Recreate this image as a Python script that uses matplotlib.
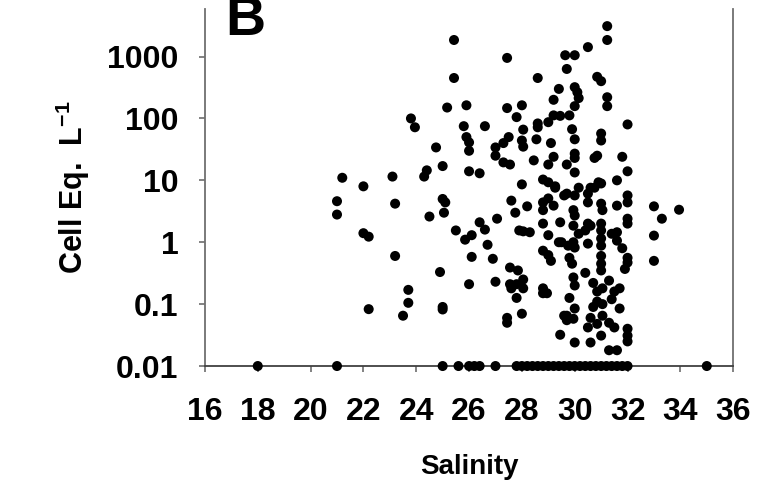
import matplotlib.pyplot as plt

plt.rcParams['font.family'] = 'Liberation Sans'
plt.rcParams['font.weight'] = 'bold'
plt.rcParams['mathtext.fontset'] = 'custom'
plt.rcParams['mathtext.rm'] = 'Liberation Sans:bold'
plt.rcParams['mathtext.bf'] = 'Liberation Sans:bold'

# samples: salinity and cell equivalents per litre
# low salinity side
sal_low = [18, 21, 21.2, 21.0, 21.0, 22.0, 22.0, 22.2, 22.2, 23.1, 23.2, 23.2,
           23.7, 23.7, 23.5, 23.8, 23.95]
cell_low = [0.01, 0.01, 11, 4.6, 2.8, 8, 1.4, 1.23, 0.083, 11.5, 4.2, 0.6,
            0.17, 0.105, 0.065, 100, 72]

# 24 - 27
sal_mid = [25.43, 25.43, 25.17, 25.9, 25.8, 26.6, 25.9, 26.0, 26.0, 24.75, 27.0,
           27.0, 25.0, 24.4, 24.3, 26.0, 26.4, 25.0, 25.1, 25.05, 24.5, 27.06,
           26.4, 26.6, 25.5, 25.85, 26.1, 26.7, 26.1, 26.9, 24.9, 26.0, 27.0,
           25.0, 25.0]
cell_mid = [1850, 450, 150, 163, 75, 75, 50, 41, 30, 34, 34,
            25, 17, 14.5, 11.5, 14, 13, 5, 4.4, 3, 2.6, 2.4,
            2.1, 1.6, 1.55, 1.1, 1.3, 0.91, 0.58, 0.54, 0.33, 0.21, 0.23,
            0.09, 0.082]

# 27 - 30
sal_hi = [27.44, 29.64, 29.7, 28.6, 29.4, 29.2, 27.44, 28.0, 27.8, 28.05, 28.6,
          28.6, 29.0, 29.2, 29.45, 29.8, 27.5, 27.3, 28.0, 28.05, 28.55, 29.1,
          29.2, 27.3, 27.55, 28.45, 29.0, 29.7, 28.0, 28.8, 29.0, 29.26,
          27.6, 27.75, 28.2, 28.8, 29.0, 29.2, 28.8, 29.26, 29.6, 27.9, 28.05,
          28.3, 28.8, 29.0, 29.45, 29.4, 28.8, 29.0, 29.1, 29.75, 27.55, 27.85,
          28.05, 27.55, 27.8, 27.6, 28.05, 27.8, 28.8, 28.95, 28.8, 28.0,
          27.44, 27.44, 29.45, 29.6, 29.7]
cell_hi = [950, 1050, 630, 450, 300, 200, 147, 163, 105, 66, 83,
           72, 87, 112, 110, 112, 50, 40, 44, 35, 46, 40,
           24, 19.5, 18, 21, 18, 18, 8.6, 10.3, 9.3, 8,
           4.7, 3, 3.8, 4.4, 5.1, 3.9, 3.3, 7.6, 5.7, 1.55, 1.5,
           1.45, 2.0, 1.3, 2.1, 1.0, 0.73, 0.62, 0.5, 0.88, 0.39, 0.35,
           0.25, 0.21, 0.21, 0.18, 0.18, 0.126, 0.18, 0.15, 0.15, 0.07,
           0.06, 0.05, 0.032, 0.065, 0.055]

# 30 - 32
sal_top = [31.23, 31.23, 30.5, 30.0, 30.85, 31.0, 30.0, 30.1, 30.15, 31.23,
           31.23, 30.0, 32.0, 29.9, 30.0, 31.0, 31.0, 30.0, 30.0, 30.85, 30.75,
           31.8, 30.0, 32.0, 31.6, 30.9, 30.15, 30.75]
cell_top = [3100, 1850, 1420, 1050, 470, 400, 320, 265, 213, 220,
            158, 158, 80, 67, 46, 57, 44, 27, 23, 25, 23,
            24, 13.4, 14, 10, 9.3, 7.6, 7.6]

sal_dense = [29.7, 30.0, 29.95, 30.0, 30.5, 30.5, 30.6, 31.0, 31.0, 31.05, 31.6,
             32.0, 32.0, 32.0, 32.0, 29.95, 30.15, 29.95, 30.0, 29.8, 29.5,
             30.5, 30.4, 30.5, 30.6, 31.0, 31.0, 31.0, 31.0, 31.0, 31.0, 31.0,
             31.4, 31.6, 31.6, 31.8, 32.0, 32.0, 31.9, 29.9, 29.95, 30.0, 30.4,
             29.8, 30.0, 29.7, 29.95, 30.7, 30.85, 31.05, 31.3, 31.5, 31.7, 31.4,
             30.85, 30.7, 31.05, 31.7, 30.6, 31.05, 30.5, 30.85, 31.3, 31.5,
             32.0, 32.0, 32.0, 31.0, 30.0, 30.6, 31.3, 31.6]
cell_dense = [6.1, 5.7, 3.3, 2.7, 6.1, 4.4, 7.6, 8.9, 4.2, 3.3, 3.9,
              5.7, 4.4, 2.4, 2.0, 1.85, 1.37, 1.0, 0.82, 0.56, 1.0,
              2.0, 1.55, 0.95, 1.85, 2.0, 1.55, 1.15, 0.88, 0.6, 0.45, 0.35,
              1.37, 1.06, 1.45, 0.8, 0.56, 0.47, 0.37, 0.45, 0.27, 0.2, 0.32,
              0.126, 0.085, 0.065, 0.058, 0.22, 0.16, 0.18, 0.24, 0.16, 0.18, 0.12,
              0.11, 0.09, 0.1, 0.085, 0.06, 0.065, 0.042, 0.048, 0.05, 0.042,
              0.04, 0.031, 0.025, 0.031, 0.024, 0.024, 0.018, 0.018]

# high salinity side
sal_right = [33.0, 33.3, 33.95, 33.0, 33.0, 35.0]
cell_right = [3.8, 2.4, 3.35, 1.28, 0.5, 0.01]

# samples at the detection floor
sal_floor = [25.0, 25.6, 26.0, 26.2, 26.4, 27.0, 27.8, 28.0, 28.2, 28.4, 28.6,
             28.8, 29.0, 29.2, 29.4, 29.6, 29.8, 30.0, 30.2, 30.4, 30.6, 30.8,
             31.0, 31.2, 31.4, 31.6, 31.8, 32.0]
cell_floor = [0.01] * len(sal_floor)

salinity = sal_low + sal_mid + sal_hi + sal_top + sal_dense + sal_right + sal_floor
cells = cell_low + cell_mid + cell_hi + cell_top + cell_dense + cell_right + cell_floor

yticks = [0.01, 0.1, 1, 10, 100, 1000]
ytick_labels = ['0.01', '0.1', '1', '10', '100', '1000']
xticks = list(range(16, 37, 2))

fig = plt.figure(figsize=(7.59, 4.90), dpi=100)
ax = fig.add_axes([0.270, 0.253, 0.696, 0.729])

ax.scatter(salinity, cells, s=52, color='black', edgecolors='none', clip_on=False, zorder=3)

ax.set_yscale('log')
ax.set_xlim(16, 36)
ax.set_ylim(0.01, 5900)
ax.set_yticks(yticks)
ax.set_yticklabels(ytick_labels)
ax.minorticks_off()
ax.set_xticks(xticks)

for side in ['left', 'bottom', 'right']:
    ax.spines[side].set_color('#707070')
    ax.spines[side].set_linewidth(1.3)
ax.spines['bottom'].set_color('#404040')
ax.spines['top'].set_visible(False)

ax.tick_params(axis='both', direction='out', length=4, width=1.1, color='#606060',
               labelsize=23)
ax.tick_params(axis='y', pad=15)
ax.tick_params(axis='x', pad=18)

ax.set_xlabel('Salinity', fontsize=20, fontweight='bold', labelpad=20)
ax.set_ylabel(r'Cell Eq.  L$^{-1}$', fontsize=22, fontweight='bold', labelpad=11)

# panel letter, partly cut off at the top like the original
fig.text(0.297, 0.928, 'B', fontsize=40, fontweight='bold', va='baseline')

fig.savefig('out.png', dpi=100)
